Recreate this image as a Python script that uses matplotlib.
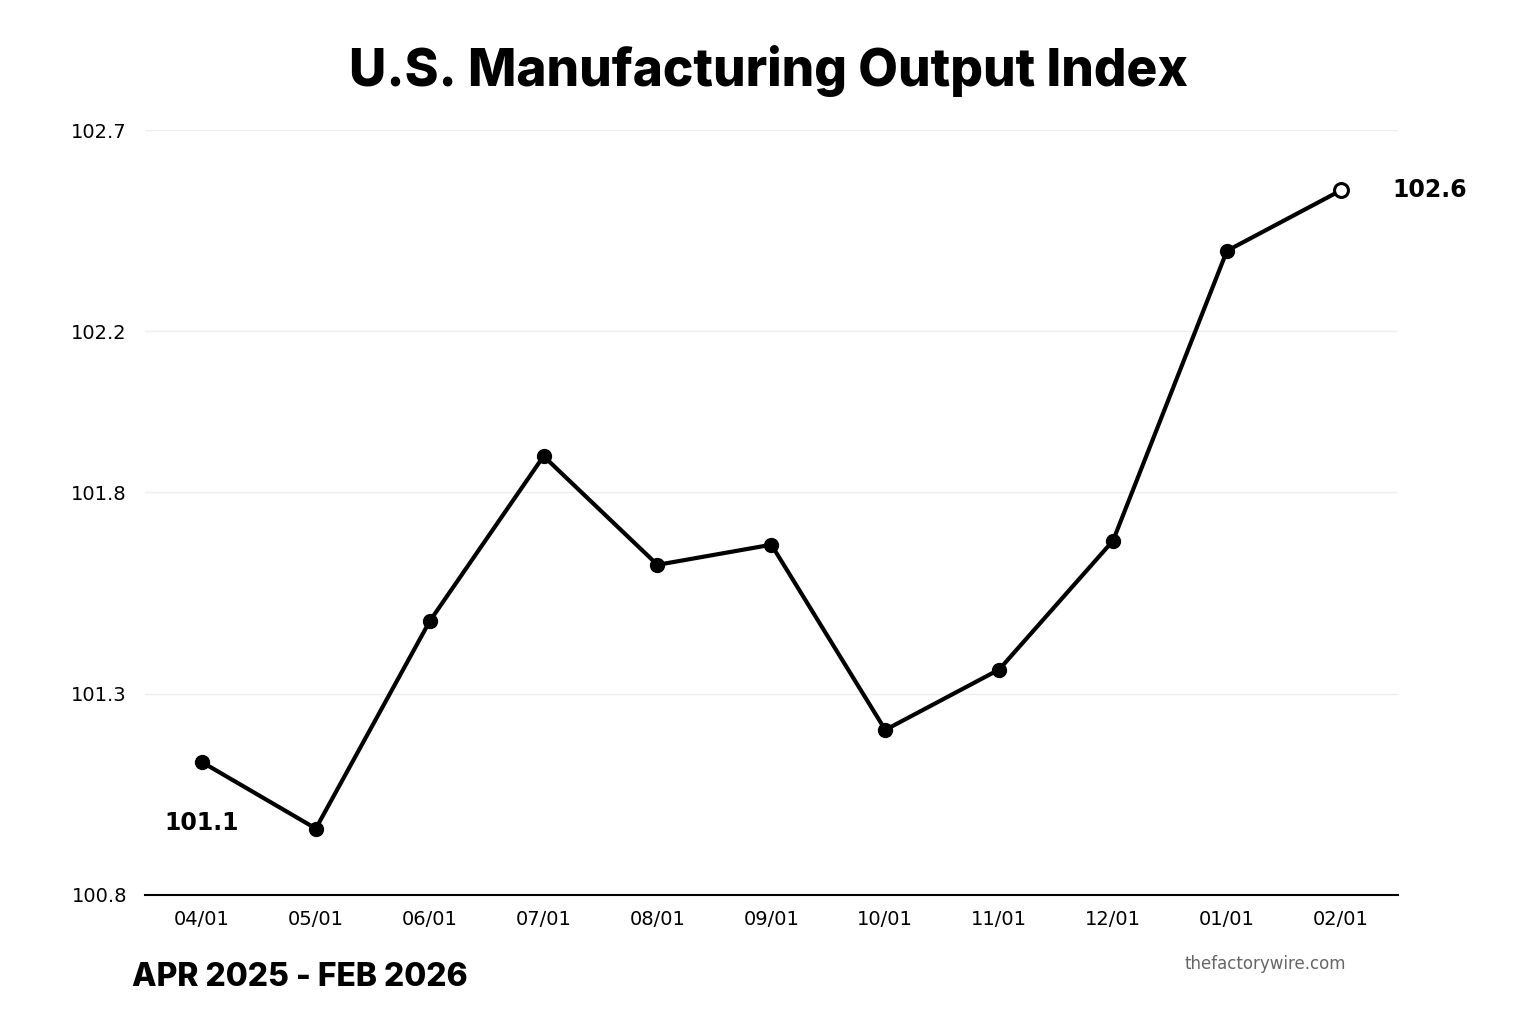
import matplotlib
matplotlib.use("Agg")
import matplotlib.pyplot as plt
import numpy as np

# data
months = ["04/01", "05/01", "06/01", "07/01", "08/01", "09/01",
          "10/01", "11/01", "12/01", "01/01", "02/01"]
values = [101.13, 100.965, 101.48, 101.89, 101.62, 101.67,
          101.21, 101.36, 101.68, 102.40, 102.55]
yticks = [100.8, 101.3, 101.8, 102.2, 102.7]
first_label = "101.1"
last_label = "102.6"

fig = plt.figure(figsize=(15.36, 10.24), dpi=100)
ax = fig.add_axes([0.0944, 0.126, 0.8156, 0.747])

x = np.arange(len(months))
ax.plot(x, values, color="black", linewidth=3, zorder=3)
ax.plot(x[:-1], values[:-1], "o", color="black", markersize=10, zorder=4)
ax.plot(x[-1], values[-1], "o", markerfacecolor="white", markeredgecolor="black",
        markeredgewidth=2.2, markersize=10, zorder=4)

ax.set_xlim(-0.5, len(months) - 0.5)
ax.set_ylim(yticks[0], yticks[-1])
ax.set_xticks(x)
ax.set_xticklabels(months, fontsize=14)
ax.set_yticks(yticks)
ax.set_yticklabels([f"{v:.1f}" for v in yticks], fontsize=14)
ax.tick_params(length=0, pad=11)
ax.tick_params(axis="y", pad=13)

for v in yticks[1:]:
    ax.axhline(v, color="#eeeeee", linewidth=1, zorder=1)

for s in ["top", "right", "left"]:
    ax.spines[s].set_visible(False)
ax.spines["bottom"].set_linewidth(1.5)

ax.annotate(first_label, xy=(x[0], values[0]), xytext=(0, -44),
            textcoords="offset points", ha="center", va="center",
            fontsize=17, fontweight="bold")
ax.annotate(last_label, xy=(x[-1], values[-1]), xytext=(37, 0),
            textcoords="offset points", ha="left", va="center",
            fontsize=17, fontweight="bold")

fig.text(0.5, 0.931, "U.S. Manufacturing Output Index", ha="center", va="center",
         fontsize=37, fontweight="heavy", family="Inter")
fig.text(0.086, 0.045, "APR 2025 - FEB 2026", ha="left", va="center",
         fontsize=23, fontweight="heavy", family="Inter")
fig.text(0.824, 0.059, "thefactorywire.com", ha="center", va="center",
         fontsize=12, color="#666666")

fig.savefig("out.png", dpi=100, facecolor="white")
